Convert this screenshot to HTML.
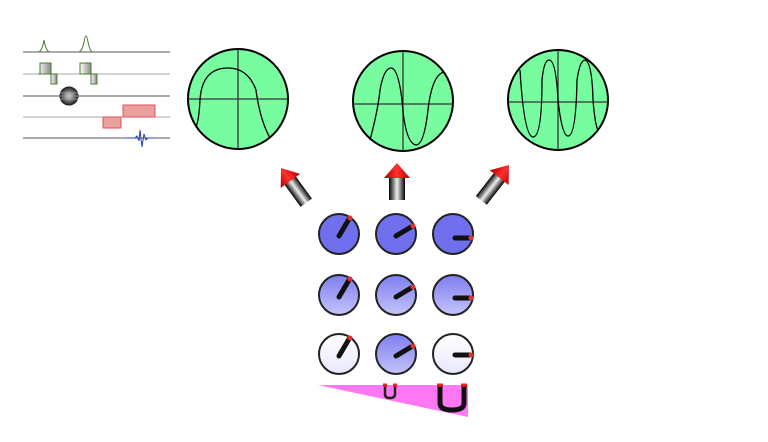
<!DOCTYPE html>
<html><head><meta charset="utf-8"><style>body{margin:0;background:#fff}svg{display:block}</style></head><body>
<svg width="768" height="442" viewBox="0 0 768 442" xmlns="http://www.w3.org/2000/svg">
<defs>
<linearGradient id="sh" x1="0" x2="1"><stop offset="0" stop-color="#000"/><stop offset="0.5" stop-color="#eee"/><stop offset="1" stop-color="#000"/></linearGradient>
<linearGradient id="hd" x1="0" x2="1"><stop offset="0" stop-color="#a00"/><stop offset="0.5" stop-color="#ff3030"/><stop offset="1" stop-color="#b00"/></linearGradient>
<linearGradient id="gy" x1="0" x2="1"><stop offset="0" stop-color="#fff"/><stop offset="1" stop-color="#888"/></linearGradient>
<linearGradient id="d3" x1="0" y1="0" x2="0" y2="1"><stop offset="0" stop-color="#fff"/><stop offset="1" stop-color="#e8e8ff"/></linearGradient>
<linearGradient id="d2" x1="0" y1="0" x2="0" y2="1"><stop offset="0" stop-color="#7d7df0"/><stop offset="1" stop-color="#c4c4fa"/></linearGradient>
<radialGradient id="ball"><stop offset="0" stop-color="#ddd"/><stop offset="1" stop-color="#222"/></radialGradient>
</defs>
<g>
<g stroke="#555" stroke-width="1">
<line x1="23" y1="52" x2="170" y2="52"/><line x1="23" y1="74" x2="170" y2="74" stroke="#aaa"/><line x1="23" y1="96" x2="170" y2="96"/><line x1="23" y1="117" x2="170" y2="117" stroke="#aaa"/><line x1="23" y1="138" x2="170" y2="138"/>
</g>
<path d="M38 52 Q42 52 44 40 Q46 52 50 52" fill="none" stroke="#4a7a30"/>
<path d="M78 52 Q82 52 84 42 Q86 30 88 42 Q90 52 93 52" fill="none" stroke="#4a7a30"/>
<path d="M38 74 H40 V63 H51 V74 Z" fill="url(#gy)" stroke="#4a7a30"/>
<path d="M51 74 H57 V84 H51 Z" fill="url(#gy)" stroke="#4a7a30"/>
<path d="M80 74 V63 H91 V74 Z" fill="url(#gy)" stroke="#4a7a30"/>
<path d="M91 74 H97 V84 H91 Z" fill="url(#gy)" stroke="#4a7a30"/>
<circle cx="69" cy="96" r="9" fill="url(#ball)" stroke="#222"/>
<path d="M60 93 H78 M60 96 H78 M60 99 H78" stroke="#aaa" stroke-width="0.8"/>
<path d="M103 117 V128 H121 V117 Z" fill="#eba0a0" stroke="#e05050"/>
<path d="M123 117 V105 H155 V117 Z" fill="#eba0a0" stroke="#e05050"/>
<path d="M124 138 H135 L137 136 L139 141 L140 130 L142 147 L144 134 L146 140 L148 138 H155" fill="none" stroke="#2040d0"/>
</g>
<g stroke="#000" fill="none">
<g><circle cx="238" cy="99" r="50" fill="#77fca0" stroke-width="2"/><path d="M188 99 H288 M238 49 V149" stroke="#333" stroke-width="1.3"/>
<path d="M196 127 Q199 120 200 100 Q202 68 228 68 Q248 68 256 90 Q260 120 270 138" stroke-width="1.3"/></g>
<g><circle cx="403" cy="101" r="50" fill="#77fca0" stroke-width="2"/><path d="M353 104 H453 M403 51 V151" stroke="#333" stroke-width="1.3"/>
<path d="M370 140 Q378 110 380 90 Q384 68 391 68 Q398 68 402 100 Q405 143 416 145 Q424 145 428 110 Q432 75 444 72" stroke-width="1.3"/></g>
<g><circle cx="558" cy="100" r="50" fill="#77fca0" stroke-width="2"/><path d="M508 102 H608 M558 50 V150" stroke="#333" stroke-width="1.3"/>
<path d="M520 70 Q524 136 533 137 Q542 137 542 80 Q544 60 549 60 Q556 60 558 100 Q562 136 568 136 Q576 136 577 80 Q580 60 585 60 Q592 62 593 100 Q595 125 598 130" stroke-width="1.3"/></g>
</g>
<g>
<g transform="translate(281,168) rotate(-36)"><rect x="-7" y="15" width="14" height="28" fill="url(#sh)"/><path d="M0 0 L12 16 H-12 Z" fill="url(#hd)"/></g>
<g transform="translate(397,163)"><rect x="-8" y="15" width="16" height="22" fill="url(#sh)"/><path d="M0 0 L13 15 H-13 Z" fill="url(#hd)"/></g>
<g transform="translate(509,165) rotate(38)"><rect x="-7" y="15" width="14" height="30" fill="url(#sh)"/><path d="M0 0 L12 16 H-12 Z" fill="url(#hd)"/></g>
</g>
<g stroke-linecap="round">
<g fill="#7070ee" stroke="#222" stroke-width="2">
<circle cx="339" cy="234" r="20"/><circle cx="396" cy="234" r="20"/><circle cx="453" cy="234" r="20"/>
</g>
<g fill="url(#d2)" stroke="#222" stroke-width="2">
<circle cx="339" cy="295" r="20"/><circle cx="396" cy="295" r="20"/><circle cx="453" cy="295" r="20"/>
<circle cx="396" cy="354" r="20"/>
</g>
<g fill="url(#d3)" stroke="#222" stroke-width="2">
<circle cx="339" cy="354" r="20"/><circle cx="453" cy="354" r="20"/>
</g>
<g stroke="#111" stroke-width="5">
<line x1="339" y1="236" x2="349" y2="219"/><line x1="396" y1="236" x2="411" y2="227"/><line x1="455" y1="238" x2="470" y2="238"/>
<line x1="339" y1="297" x2="349" y2="280"/><line x1="396" y1="297" x2="411" y2="288"/><line x1="455" y1="298" x2="470" y2="298"/>
<line x1="339" y1="356" x2="349" y2="339"/><line x1="396" y1="356" x2="411" y2="347"/><line x1="455" y1="355" x2="470" y2="355"/>
</g>
<g fill="#e03030"><circle cx="350" cy="218" r="2.5"/><circle cx="413" cy="226" r="2.5"/><circle cx="471" cy="238" r="2.5"/><circle cx="350" cy="279" r="2.5"/><circle cx="413" cy="287" r="2.5"/><circle cx="471" cy="298" r="2.5"/><circle cx="350" cy="338" r="2.5"/><circle cx="413" cy="346" r="2.5"/><circle cx="471" cy="355" r="2.5"/></g>
</g>
<g>
<polygon points="318,385 468,385 468,417" fill="#ff77f2"/>
<path d="M385 385 V394 Q385 398 390 398 Q395 398 395 394 V385" fill="none" stroke="#222" stroke-width="2.5"/>
<path d="M440 385 V403 Q440 410 452 410 Q464 410 464 403 V385" fill="none" stroke="#111" stroke-width="5"/>
<path d="M437 385 H443 M461 385 H467 M383 385 H387 M393 385 H397" stroke="#f02020" stroke-width="3"/>
</g>
</svg>
</body></html>
